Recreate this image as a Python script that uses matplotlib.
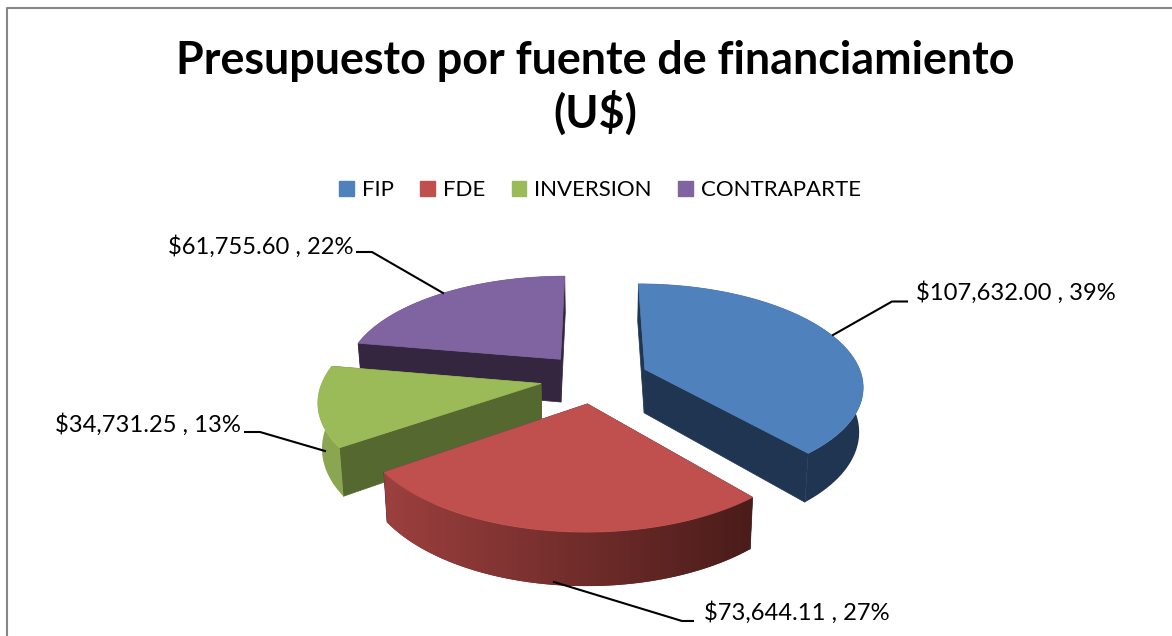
import numpy as np
import matplotlib
matplotlib.use('Agg')
import matplotlib.pyplot as plt
from matplotlib.colors import LinearSegmentedColormap
from matplotlib.patches import Patch, Polygon

plt.rcParams['font.family'] = ['Lato', 'DejaVu Sans']

# datos
categorias = ['FIP', 'FDE', 'INVERSION', 'CONTRAPARTE']
valores = [107632.00, 73644.11, 34731.25, 61755.60]
etiquetas = ['$107,632.00 , 39%', '$73,644.11 , 27%', '$34,731.25 , 13%', '$61,755.60 , 22%']

# colores
color_sup = ['#4f81bd', '#c0504d', '#9bbb59', '#8064a2']
color_corte = ['#1f3552', '#1f3552', '#55682f', '#35263f']
color_borde_izq = ['#1f3552', '#9c403e', '#8aa650', '#35263f']
color_borde_der = ['#1f3552', '#4a1c1a', '#8aa650', '#35263f']

# perspectiva del pastel (pixeles)
VX, VY = 594.5, 378.0
R, D, H = 217.5, 6.73, 677.0
EXPLOTA = 0.25
ALTO = 44.0
REDUCE = 0.985


def proyecta(x, z):
    s = D / (D + z)
    return VX + R * x * s, VY + H * (s - 1), s


def base(x, z):
    px, py, s = proyecta(x, z)
    return VX + (px - VX) * REDUCE, py + ALTO * s


fig = plt.figure(figsize=(11.72, 6.36), dpi=100)
ax = fig.add_axes([0, 0, 1, 1])
ax.axis('off')

# marco
ax.plot([6.5, 6.5, 1172], [636, 7.5, 7.5], color='#868686', lw=1.5, zorder=1)

# lineas guia
guias = [
    [(833, 335), (892, 301.5), (907, 301.5)],
    [(554, 582), (682, 621), (693, 621)],
    [(325, 451), (260, 432), (245, 432)],
    [(443, 293), (372, 252), (357, 252)],
]
for g in guias:
    gx, gy = zip(*g)
    ax.plot(gx, gy, color='black', lw=1.5, zorder=20, solid_joinstyle='miter')

total = sum(valores)
fin = np.cumsum(valores) / total * 2 * np.pi
ini = np.concatenate([[0], fin[:-1]])

# orden de dibujo: atras hacia adelante
for n, i in enumerate([3, 0, 2, 1]):
    medio = (ini[i] + fin[i]) / 2
    ex, ez = EXPLOTA * np.sin(medio), EXPLOTA * np.cos(medio)
    th = np.linspace(ini[i], fin[i], 90)
    xs, zs = ex + np.sin(th), ez + np.cos(th)
    z0 = 5 + n * 4

    # caras de corte
    for t in (ini[i], fin[i]):
        xe, ze = ex + np.sin(t), ez + np.cos(t)
        puntos = [proyecta(ex, ez)[:2], proyecta(xe, ze)[:2], base(xe, ze), base(ex, ez)]
        ax.add_patch(Polygon(puntos, fc=color_corte[i], ec=color_corte[i], lw=0.5, zorder=z0))

    # borde curvo con degradado horizontal
    arriba = [proyecta(a, b)[:2] for a, b in zip(xs, zs)]
    abajo = [base(a, b) for a, b in zip(xs, zs)]
    puntos = arriba + abajo[::-1]
    medio_c = np.mean([matplotlib.colors.to_rgb(color_borde_izq[i]),
                       matplotlib.colors.to_rgb(color_borde_der[i])], axis=0)
    borde = Polygon(puntos, fc=medio_c, ec='none', zorder=z0 + 1)
    ax.add_patch(borde)
    if color_borde_izq[i] != color_borde_der[i]:
        x_pts = [p[0] for p in puntos]
        y_pts = [p[1] for p in puntos]
        cm = LinearSegmentedColormap.from_list('b', [color_borde_izq[i], color_borde_der[i]])
        im = ax.imshow(np.linspace(0, 1, 256)[None, :], cmap=cm, aspect='auto', zorder=z0 + 2,
                       extent=[min(x_pts), max(x_pts), max(y_pts), min(y_pts)])
        im.set_clip_path(Polygon(puntos, transform=ax.transData))

    # cara superior
    puntos = [proyecta(ex, ez)[:2]] + arriba
    ax.add_patch(Polygon(puntos, fc=color_sup[i], ec=color_sup[i], lw=0.5, zorder=z0 + 3))

ax.set_xlim(0, 1172)
ax.set_ylim(636, 0)

# textos
ax.text(595, 88, 'Presupuesto por fuente de financiamiento\n(U$)', ha='center', va='center',
        fontsize=32.3, fontweight='bold', color='black', linespacing=1.24)

pos_etq = [(916, 293, 'left'), (704, 613, 'left'), (241, 425, 'right'), (353, 247, 'right')]
for (x, y, ha), txt in zip(pos_etq, etiquetas):
    ax.text(x, y, txt, ha=ha, va='center', fontsize=17.1, color='black')

marcas = [Patch(fc=c, ec=c) for c in color_sup]
ax.legend(marcas, categorias, ncol=4, frameon=False, loc='center',
          bbox_to_anchor=(600 / 1172, 1 - 190 / 636), bbox_transform=fig.transFigure,
          fontsize=16, handlelength=0.66, handleheight=0.68, handletextpad=0.35,
          columnspacing=1.2, borderaxespad=0, borderpad=0)

fig.savefig('out.png', dpi=100)
